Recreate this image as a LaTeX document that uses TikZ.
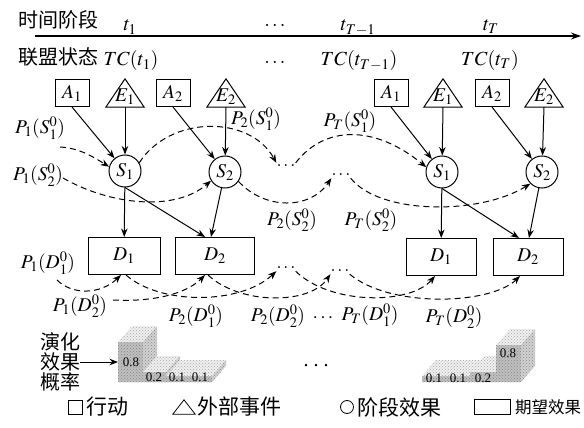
\documentclass[tikz,border=0pt]{standalone}
\usepackage{mathptmx}
\usepackage[no-math]{fontspec}
\setmainfont{Liberation Serif}
\newfontfamily\cjk{Noto Sans CJK SC}
\usetikzlibrary{arrows.meta,patterns}
\newcommand\mybar[3]{%
  \path[fill=gray!50, postaction={pattern=crosshatch dots, pattern color=gray!95}]
    (#1,382) -- (#1+#2,382) -- (#1+#2,382-#3) -- (#1,382-#3) -- cycle;
  \path[fill=gray!12, postaction={pattern=crosshatch dots, pattern color=gray!70}]
    (#1,382-#3) -- (#1+14,382-#3-16) -- (#1+#2+14,382-#3-16) -- (#1+#2,382-#3) -- cycle;
  \path[fill=gray!35, postaction={pattern=crosshatch dots, pattern color=gray!95}]
    (#1+#2,382) -- (#1+#2+14,382-16) -- (#1+#2+14,382-#3-16) -- (#1+#2,382-#3) -- cycle;
}
\begin{document}
\begin{tikzpicture}[x=1pt,y=-1pt,
  every node/.style={inner sep=0pt},
  mth/.style={font=\fontsize{19.5}{22}\selectfont},
  hdr/.style={font=\fontsize{20}{22}\selectfont},
  cjkt/.style={font=\cjk\fontsize{20}{22}\selectfont},
  lgt/.style={font=\cjk\fontsize{21}{22}\selectfont, anchor=west},
  abox/.style={draw, line width=1pt, minimum width=34pt, minimum height=27pt, mth},
  trilab/.style={minimum height=20pt, minimum width=38pt, mth},
  tri/.style={draw, line width=1pt, line join=miter},
  scirc/.style={draw, circle, line width=1pt, minimum size=32pt, mth},
  dbox/.style={draw, line width=1pt, minimum width=72pt, minimum height=37pt, mth},
  conn/.style={line width=1pt, -{Stealth[length=8.5pt,width=6.5pt]}},
  dsh/.style={conn, dash pattern=on 6pt off 4pt},
  dotsn/.style={font=\fontsize{18}{20}\selectfont, minimum width=16pt, minimum height=6pt},
  num/.style={font=\fontsize{13}{14}\selectfont},
]
\useasboundingbox (0,0) rectangle (584,428);
% header
\node[cjkt] (h1) at (58,20) {时间阶段};
\node[hdr, anchor=base] (t1) at (130,31) {$t_1$};
\node[hdr, anchor=base] (hd1) at (275,27) {$\ldots$};
\node[hdr, anchor=base] (tT1) at (358,31) {$t_{T-1}$};
\node[hdr, anchor=base] (tT) at (491,31) {$t_T$};
\coordinate (axL) at (35,36);
\coordinate (axR) at (581,36);
\draw[line width=1.2pt, -{Stealth[length=10pt,width=7pt]}] (axL) -- (axR);
\node[cjkt] (h2) at (58,57) {联盟状态};
\node[hdr, anchor=base] (tc1) at (131,66) {$TC(t_1)$};
\node[hdr, anchor=base] (hd2) at (275,64) {$\ldots$};
\node[hdr, anchor=base] (tcT1) at (359,66) {$TC(t_{T-1})$};
\node[hdr, anchor=base] (tcT) at (490,66) {$TC(t_T)$};
% actions and events
\node[abox] (A1) at (72,93) {$A_1$};
\node[trilab] (E1) at (125,97) {$E_1$};
\node[abox] (A2) at (173,93) {$A_2$};
\node[trilab] (E2) at (226,97) {$E_2$};
\node[abox] (A1r) at (391,93) {$A_1$};
\node[trilab] (E1r) at (443,97) {$E_1$};
\node[abox] (A2r) at (492,93) {$A_2$};
\node[trilab] (E2r) at (544,97) {$E_2$};
\foreach \e in {E1,E2,E1r,E2r}
  \draw[tri] (\e.south west) -- ([yshift=8pt]\e.north) -- (\e.south east) -- cycle;
% stage effects
\node[scirc] (S1) at (125,171) {$S_1$};
\node[scirc] (S2) at (225,172) {$S_2$};
\node[scirc] (S1r) at (442,172) {$S_1$};
\node[scirc] (S2r) at (542,172) {$S_2$};
% expected effects
\node[dbox] (D1) at (124,256) {$D_1$};
\node[dbox, minimum width=79pt] (D2) at (215,256) {$D_2$};
\node[dbox, minimum width=70pt] (D1r) at (441,257) {$D_1$};
\node[dbox, minimum width=70pt] (D2r) at (528,257) {$D_2$};
% solid connectors
\draw[conn] (A1.south) -- (S1);
\draw[conn] (E1.south) -- (S1);
\draw[conn] (A2.south) -- (S2);
\draw[conn] (E2.south) -- (S2);
\draw[conn] (A1r.south) -- (S1r);
\draw[conn] (E1r.south) -- (S1r);
\draw[conn] (A2r.south) -- (S2r);
\draw[conn] (E2r.south) -- (S2r);
\draw[conn] (S1) -- (D1);
\draw[conn] (S1.south) -- ([xshift=-10pt]D2.north);
\draw[conn] (S2) -- ([xshift=-4pt]D2.north);
\draw[conn] (S1r) -- (D1r);
\draw[conn] (S1r.south) -- ([xshift=-9pt]D2r.north);
\draw[conn] (S2r) -- ([xshift=1pt]D2r.north);
% dots
\node[dotsn] (dt1) at (286,166) {$\ldots$};
\node[dotsn] (dt2) at (341,175) {$\ldots$};
\node[dotsn] (dt3) at (286,268) {$\ldots$};
\node[dotsn] (dt4) at (340,271) {$\ldots$};
% probability labels
\node[mth] (P1S1) at (40,128) {$P_1(S_1^0)$};
\node[mth] (P1S2) at (38,175) {$P_1(S_2^0)$};
\node[mth] (P2S1) at (256,119) {$P_2(S_1^0)$};
\node[mth] (PTS1) at (350,121) {$P_T(S_1^0)$};
\node[mth] (P2S2) at (292,220) {$P_2(S_2^0)$};
\node[mth] (PTS2) at (371,220) {$P_T(S_2^0)$};
\node[mth] (P1D1) at (48,263) {$P_1(D_1^0)$};
\node[mth] (P1D2) at (80,306) {$P_1(D_2^0)$};
\node[mth] (P2D1) at (196,316) {$P_2(D_1^0)$};
\node[mth] (P2D2) at (278,316) {$P_2(D_2^0)$};
\node[mth] (dt5) at (323,318) {$\cdots$};
\node[mth] (PTD1) at (370,315) {$P_T(D_1^0)$};
\node[mth] (PTD2) at (454,317) {$P_T(D_2^0)$};
% dashed S level
\coordinate (c1) at (60,147);
\coordinate (c2) at (63,178);
\draw[dsh] (c1) .. controls (80,148) and (95,158) .. (S1.165);
\draw[dsh] (c2) .. controls (110,205) and (175,212) .. (S2.212);
\draw[dsh] (S1.30) .. controls (170,115) and (250,115) .. (dt1.north west);
\draw[dsh] (dt1.north east) .. controls (325,125) and (375,125) .. (S1r.163);
\draw[dsh] (S2.-35) .. controls (265,210) and (310,210) .. (dt2.south west);
\draw[dsh] (dt2.south east) .. controls (380,215) and (480,215) .. (S2r.225);
% dashed D level
\coordinate (c3) at (57,280);
\coordinate (c4) at (113,300);
\draw[dsh] (c3) .. controls (72,295) and (100,295) .. ([xshift=-3pt]D1.south);
\draw[dsh] (c4) .. controls (150,302) and (185,295) .. ([xshift=-10pt]D2.south);
\draw[dsh] ([xshift=2pt]D1.south) .. controls (160,305) and (240,305) .. (dt3.south west);
\draw[dsh] ([xshift=-7pt]D2.south) .. controls (240,305) and (310,305) .. (dt4.south west);
\draw[dsh] (dt3.south east) .. controls (330,305) and (410,305) .. ([xshift=-6pt]D1r.south);
\draw[dsh] (dt4.south east) .. controls (390,308) and (490,305) .. ([xshift=-8pt]D2r.south);
% evolution probability
\node[align=center, font=\cjk\fontsize{20}{20}\selectfont] (evo) at (60,362) {演化\\效果\\概率};
\coordinate (barL) at (118,362);
\draw[conn] (evo.east) -- (barL);
\mybar{118}{25}{40}
\mybar{143}{23}{10}
\mybar{166}{23}{6}
\mybar{189}{23}{6}
\node[num] (l08) at (131,362) {0.8};
\node[num] (l02) at (154,377) {0.2};
\node[num] (l01a) at (177,377) {0.1};
\node[num] (l01b) at (200,377) {0.1};
\node[hdr] (bd) at (316,366) {.\hspace{5pt}.\hspace{5pt}.};
\mybar{422}{24}{6}
\mybar{446}{24}{6}
\mybar{470}{26}{10}
\mybar{496}{25}{37}
\node[num] (r01a) at (434,378) {0.1};
\node[num] (r01b) at (458,378) {0.1};
\node[num] (r02) at (483,378) {0.2};
\node[num] (r08) at (508,353) {0.8};
% legend
\node[draw, line width=0.8pt, minimum size=14pt] (lgA) at (75,407) {};
\node[lgt] (lgAt) at (86,407) {行动};
\node[minimum width=22pt, minimum height=14pt] (lgE) at (184,407) {};
\draw[tri, line width=0.8pt] (lgE.south west) -- (lgE.north) -- (lgE.south east) -- cycle;
\node[lgt] (lgEt) at (197,407) {外部事件};
\node[draw, circle, line width=0.8pt, minimum size=13pt] (lgS) at (347,407) {};
\node[lgt] (lgSt) at (357,407) {阶段效果};
\node[draw, line width=0.8pt, minimum width=36pt, minimum height=15pt] (lgD) at (492,407) {};
\node[lgt, font=\cjk\fontsize{16.5}{20}\selectfont] (lgDt) at (515,407) {期望效果};
\end{tikzpicture}
\end{document}
